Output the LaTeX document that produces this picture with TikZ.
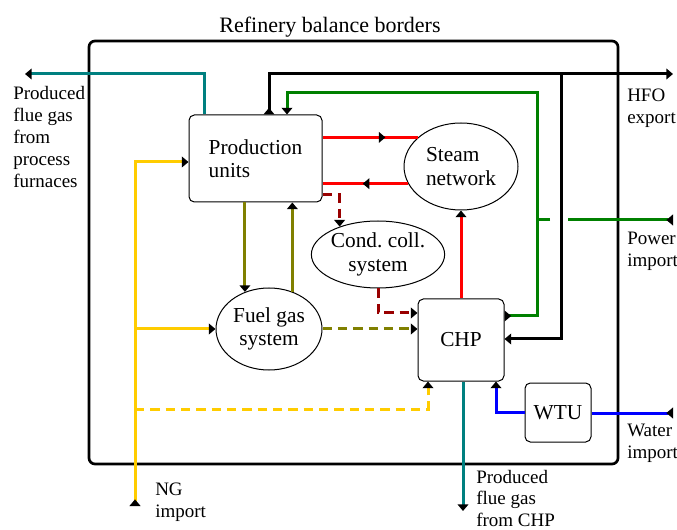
\documentclass[tikz,border=0pt]{standalone}
\usepackage{fontspec}
\setmainfont{Liberation Serif}
\usetikzlibrary{arrows.meta,shapes.geometric,decorations.markings}
\definecolor{pgreen}{RGB}{0,128,0}
\definecolor{condred}{RGB}{153,0,0}
\definecolor{nggold}{RGB}{255,204,0}
\definecolor{fgolive}{RGB}{128,128,0}

\begin{document}
\begin{tikzpicture}[x=0.75pt,y=-0.75pt,
	flow/.tip={Triangle[length=5pt,width=8pt,color=black]},
	rflow/.tip={Triangle[length=5pt,width=8pt,color=black,reversed]},
	pipe/.style={line width=2.25pt},
	dsh/.style={dash pattern=on 7pt off 4.5pt},
	midflow/.style={postaction={decorate},decoration={markings,mark=at position #1 with {\arrow{flow}}}},
	unit/.style={draw,line width=0.75pt,rounded corners=4pt,inner sep=0pt,align=center,font=\fontsize{16}{17.5}\selectfont},
	pool/.style={draw,ellipse,line width=0.75pt,inner sep=0pt,align=center,font=\fontsize{16}{17.5}\selectfont},
	lbl/.style={anchor=north west,inner sep=0pt,align=left,font=\fontsize{14.25}{16.5}\selectfont}]
	\useasboundingbox (0,0) rectangle (677,530);
	\draw[line width=2pt,rounded corners=4.5pt] (89,41) rectangle (618,464);
	\node[anchor=base,font=\fontsize{16.5}{18}\selectfont] (title) at (330,33) {Refinery balance borders};
	\node[unit,minimum width=99.75pt,minimum height=65.25pt,align=left] (pu) at (255.5,158.5) {Production\\units};
	\node[pool,minimum width=85.5pt,minimum height=65.25pt,align=left] (steam) at (461,166.5) {Steam\\network};
	\node[pool,minimum width=82.5pt,minimum height=50.25pt] (cond) at (378,254.5) {Cond.\ coll.\\system};
	\node[pool,minimum width=79.5pt,minimum height=61.5pt] (fuel) at (269,329) {Fuel gas\\system};
	\node[unit,minimum width=64.5pt,minimum height=61.5pt] (chp) at (461,340) {CHP};
	\node[unit,minimum width=49.5pt,minimum height=44.25pt] (wtu) at (558,412.5) {WTU};
	\coordinate (flueA) at (25,74);
	\coordinate (flueB) at (463,511);
	\coordinate (hfoout) at (673,74);
	\coordinate (hfojn) at (561,74);
	\coordinate (powin) at (673,220);
	\coordinate (gapR) at (568,220);
	\coordinate (gapL) at (550,220);
	\coordinate (powjn) at (537,220);
	\coordinate (ngin) at (135,506);
	\coordinate (watin) at (673,413);
	\draw[pipe,teal,-flow] (pu.north-|204,0) |- (flueA);
	\draw[pipe,teal,-flow] (chp.south-|flueB) -- (flueB);
	\draw[pipe,rflow-flow] (pu.north-|269,0) |- (hfoout);
	\draw[pipe,-flow] (hfojn) |- (chp.east|-0,339);
	\draw[pipe,pgreen,rflow-flow] (chp.east|-0,316) -| (537,93) -| (pu.north-|287,0);
	\draw[pipe,pgreen,rflow-] (powin) -- (gapR);
	\draw[pipe,pgreen] (gapL) -- (powjn);
	\draw[pipe,red,midflow=0.66] (steam.146-|pu.east) -- (steam.146);
	\draw[pipe,red,midflow=0.53] (steam.198) -- (steam.198-|pu.east);
	\draw[pipe,red,-flow] (chp.north-|steam.south) -- (steam.south);
	\draw[pipe,condred,dsh,-flow] (pu.east|-0,195) -| (cond.144);
	\draw[pipe,condred,dsh,-flow] (cond.south) |- (chp.west|-0,313);
	\draw[pipe,fgolive,-flow] (pu.south-|fuel.123) -- (fuel.123);
	\draw[pipe,fgolive,-flow] (fuel.58) -- (pu.south-|fuel.58);
	\draw[pipe,fgolive,dsh,-flow] (fuel.east) -- (chp.west|-fuel.east);
	\draw[pipe,nggold,rflow-flow] (ngin) |- (pu.west|-0,162);
	\draw[pipe,nggold,-flow] (ngin|-fuel.west) -- (fuel.west);
	\draw[pipe,nggold,dsh,-flow] (ngin|-0,409) -| (chp.south-|428,0);
	\draw[pipe,blue,rflow-] (watin) -- (wtu.east|-watin);
	\draw[pipe,blue,-flow] (wtu.west) -| (chp.south-|496,0);
	\node[lbl] (flueAtxt) at (13,86) {Produced\\flue gas\\from\\process\\furnaces};
	\node[lbl] (hfotxt) at (627,89) {HFO\\export};
	\node[lbl] (powtxt) at (627,232) {Power\\import};
	\node[lbl] (wattxt) at (627,424) {Water\\import};
	\node[lbl,font=\fontsize{14.25}{16}\selectfont] (flueBtxt) at (476,470) {Produced\\flue gas\\from CHP};
	\node[lbl] (ngtxt) at (155,483) {NG\\import};
\end{tikzpicture}
\end{document}
